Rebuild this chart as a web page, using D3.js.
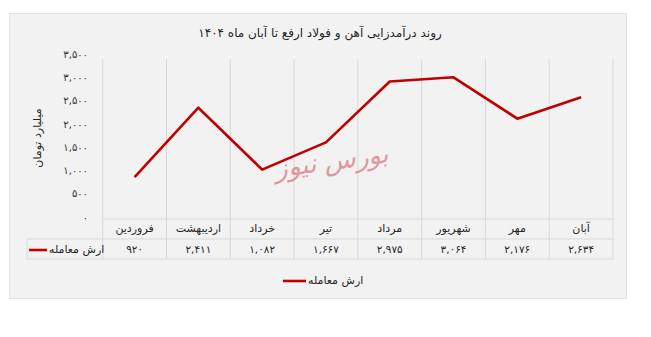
<!DOCTYPE html>
<html>
<head>
<meta charset="utf-8">
<script src="https://cdn.jsdelivr.net/npm/d3@7"></script>
<style>
  html, body { margin: 0; padding: 0; background: #ffffff; }
  svg { display: block; font-family: "DejaVu Sans", sans-serif; }
</style>
</head>
<body>
<svg id="chart" width="651" height="337"></svg>
<script>
const titleText = "روند درآمدزایی آهن و فولاد ارفع تا آبان ماه ۱۴۰۴";
const yTitle = "میلیارد تومان";
const seriesName = "ارش معامله";
const categories = ["فروردین", "اردیبهشت", "خرداد", "تیر", "مرداد", "شهریور", "مهر", "آبان"];
const values = [920, 2411, 1082, 1667, 2975, 3064, 2176, 2634];
const valueLabels = ["۹۲۰", "۲,۴۱۱", "۱,۰۸۲", "۱,۶۶۷", "۲,۹۷۵", "۳,۰۶۴", "۲,۱۷۶", "۲,۶۳۴"];
const yTicks = [0, 500, 1000, 1500, 2000, 2500, 3000, 3500];
const yTickLabels = ["۰", "۵۰۰", "۱,۰۰۰", "۱,۵۰۰", "۲,۰۰۰", "۲,۵۰۰", "۳,۰۰۰", "۳,۵۰۰"];
const watermark = "بورس نیوز";

const svg = d3.select("#chart");
const lineColor = "#c00000";
const gridColor = "#d9d9d9";
const textColor = "#262626";

// panel
svg.append("rect").attr("x", 9.5).attr("y", 13.5).attr("width", 617).attr("height", 285)
  .attr("fill", "#f2f2f2").attr("stroke", "#e3e3e3");

// title
svg.append("text").attr("x", 320).attr("y", 37).attr("text-anchor", "middle")
  .attr("font-size", 12).attr("fill", textColor).text(titleText);

const plotLeft = 102.7, plotRight = 613, plotTop = 59, axisY = 219;
const x = d3.scaleBand().domain(categories).range([plotLeft, plotRight]);
const y = d3.scaleLinear().domain([0, 3500]).range([220, 57]);

// vertical gridlines / table columns
const bounds = categories.map(c => x(c)).concat([plotRight]);
svg.append("g").selectAll("line").data(bounds).join("line")
  .attr("x1", d => d).attr("x2", d => d)
  .attr("y1", plotTop).attr("y2", 259)
  .attr("stroke", gridColor).attr("stroke-width", 1);

// table horizontal lines
const tableLines = [
  {x1: plotLeft, x2: plotRight, y: axisY},
  {x1: 27, x2: plotRight, y: 239},
  {x1: 27, x2: plotRight, y: 259}
];
svg.append("g").selectAll("line").data(tableLines).join("line")
  .attr("x1", d => d.x1).attr("x2", d => d.x2)
  .attr("y1", d => d.y).attr("y2", d => d.y)
  .attr("stroke", gridColor);
svg.append("line").attr("x1", 27).attr("x2", 27).attr("y1", 239).attr("y2", 259).attr("stroke", gridColor);

// y axis labels
const yAxis = d3.axisLeft(y).tickValues(yTicks).tickSize(0)
  .tickFormat((d, i) => yTickLabels[i]);
const gy = svg.append("g").attr("transform", `translate(91,-3)`).call(yAxis);
gy.select(".domain").remove();
gy.selectAll("text").attr("font-size", 10).attr("fill", "#333333")
  .attr("font-family", "DejaVu Sans");

// y title
svg.append("text").attr("transform", "translate(38,138) rotate(-90)")
  .attr("text-anchor", "middle").attr("dominant-baseline", "middle")
  .attr("font-size", 11).attr("fill", textColor).text(yTitle);

// watermark
svg.append("text").attr("x", 332).attr("y", 170).attr("text-anchor", "middle")
  .attr("font-size", 26).attr("font-style", "italic").attr("fill", "#d9737d").attr("opacity", 0.7)
  .attr("transform", "rotate(-8,332,165)")
  .attr("font-family", "DejaVu Serif").text(watermark);

// line
const line = d3.line().x((d, i) => x(categories[i]) + x.bandwidth() / 2).y(d => y(d));
svg.append("path").datum(values).attr("d", line)
  .attr("fill", "none").attr("stroke", lineColor).attr("stroke-width", 2.6)
  .attr("stroke-linejoin", "round");

// table header (categories)
svg.append("g").selectAll("text").data(categories).join("text")
  .attr("x", d => x(d) + x.bandwidth() / 2).attr("y", 229)
  .attr("text-anchor", "middle").attr("dominant-baseline", "middle")
  .attr("font-size", 11).attr("fill", textColor).text(d => d);

// table values
svg.append("g").selectAll("text").data(valueLabels).join("text")
  .attr("x", (d, i) => x(categories[i]) + x.bandwidth() / 2).attr("y", 249.5)
  .attr("text-anchor", "middle").attr("dominant-baseline", "middle")
  .attr("font-size", 10.5).attr("fill", textColor).text(d => d);

// table legend key
svg.append("line").attr("x1", 29).attr("x2", 47).attr("y1", 250).attr("y2", 250)
  .attr("stroke", lineColor).attr("stroke-width", 2.6);
svg.append("text").attr("x", 49).attr("y", 249.5).attr("dominant-baseline", "middle")
  .attr("font-size", 11).attr("fill", textColor).text(seriesName);

// bottom legend
svg.append("line").attr("x1", 283).attr("x2", 306).attr("y1", 281).attr("y2", 281)
  .attr("stroke", lineColor).attr("stroke-width", 2.6);
svg.append("text").attr("x", 308).attr("y", 280.5).attr("dominant-baseline", "middle")
  .attr("font-size", 11).attr("fill", textColor).text(seriesName);
</script>
</body>
</html>
